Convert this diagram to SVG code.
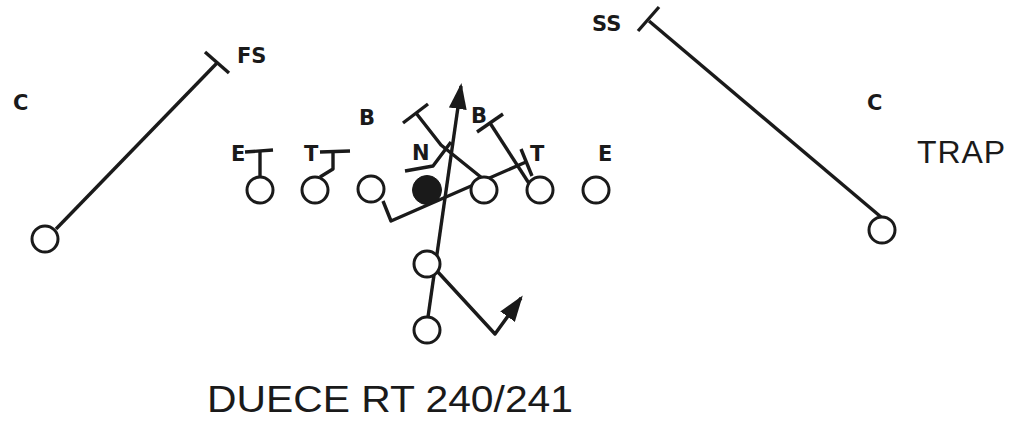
<svg xmlns="http://www.w3.org/2000/svg" width="1013" height="423" viewBox="0 0 1013 423">
<style>
.pl{fill:#fff;stroke:#1a1a1a;stroke-width:3}
.ball{fill:#1a1a1a;stroke:#1a1a1a;stroke-width:1}
.ln{fill:none;stroke:#1a1a1a;stroke-width:3.4;stroke-linejoin:round}
.lb{font-family:"DejaVu Sans","Liberation Sans",Arial,sans-serif;font-weight:bold;font-size:21px;fill:#1a1a1a}
.tt{font-family:"Liberation Sans",Arial,sans-serif;fill:#1a1a1a}
</style>
<defs>
<marker id="ah" viewBox="0 0 26 18" refX="23" refY="9" markerWidth="26" markerHeight="18" markerUnits="userSpaceOnUse" orient="auto">
<path d="M0,0 L26,9 L0,18 z" fill="#1a1a1a"/>
</marker>
</defs>
<rect width="1013" height="423" fill="#fff"/>
<g id="connectors">
<line class="ln" x1="56" y1="229" x2="217" y2="63"/>
<line class="ln" x1="205" y1="52" x2="229" y2="73"/>
<line class="ln" x1="649" y1="21" x2="881" y2="217"/>
<line class="ln" x1="638" y1="31" x2="659" y2="7"/>
<polyline class="ln" points="260,177 260,152"/>
<line class="ln" x1="245" y1="152" x2="273" y2="150"/>
<polyline class="ln" points="320,177 333,169 333,151"/>
<line class="ln" x1="320" y1="152" x2="350" y2="151"/>
<polyline class="ln" points="482,178 441,145 416,113"/>
<line class="ln" x1="403" y1="123" x2="428" y2="104"/>
<polyline class="ln" points="405,171 433,166 451,142"/>
<line class="ln" x1="490" y1="123" x2="532" y2="188"/>
<line class="ln" x1="477" y1="132" x2="503" y2="114"/>
<polyline class="ln" points="383,201 391,221 526,162"/>
<line class="ln" x1="521" y1="149" x2="532" y2="176"/>
<line class="ln" x1="428" y1="317" x2="461" y2="86" marker-end="url(#ah)"/>
<polyline class="ln" points="437,271 495,334 521,298" marker-end="url(#ah)"/>
</g>
<g id="offense">
<g id="n-leftwide"><circle class="pl" cx="45" cy="239" r="13"/></g>
<g id="n-o1"><circle class="pl" cx="260" cy="190" r="13"/></g>
<g id="n-o2"><circle class="pl" cx="315" cy="190" r="13"/></g>
<g id="n-o3"><circle class="pl" cx="371" cy="189" r="13"/></g>
<g id="n-center"><circle class="ball" cx="427" cy="190" r="14.5"/></g>
<g id="n-o5"><circle class="pl" cx="484" cy="190" r="13"/></g>
<g id="n-o6"><circle class="pl" cx="540" cy="190" r="13"/></g>
<g id="n-o7"><circle class="pl" cx="596" cy="190" r="13"/></g>
<g id="n-qb"><circle class="pl" cx="427" cy="264" r="13"/></g>
<g id="n-rb"><circle class="pl" cx="427" cy="330" r="13"/></g>
<g id="n-rightwide"><circle class="pl" cx="882" cy="230" r="13"/></g>
</g>
<g id="defense">
<g id="d-cl"><text class="lb" x="13" y="110">C</text></g>
<g id="d-fs"><text class="lb" x="237" y="63">FS</text></g>
<g id="d-bl"><text class="lb" x="359" y="125">B</text></g>
<g id="d-br"><text class="lb" x="471" y="123">B</text></g>
<g id="d-el"><text class="lb" x="231" y="161">E</text></g>
<g id="d-tl"><text class="lb" x="304" y="161">T</text></g>
<g id="d-n"><text class="lb" x="412" y="160">N</text></g>
<g id="d-tr"><text class="lb" x="530" y="161">T</text></g>
<g id="d-er"><text class="lb" x="598" y="161">E</text></g>
<g id="d-ss"><text class="lb" x="592" y="31">SS</text></g>
<g id="d-cr"><text class="lb" x="867" y="110">C</text></g>
</g>
<g id="titles">
<text class="tt" x="917" y="163" font-size="32" textLength="88">TRAP</text>
<text class="tt" x="207" y="412" font-size="36" textLength="366" lengthAdjust="spacingAndGlyphs">DUECE RT 240/241</text>
</g>
</svg>
